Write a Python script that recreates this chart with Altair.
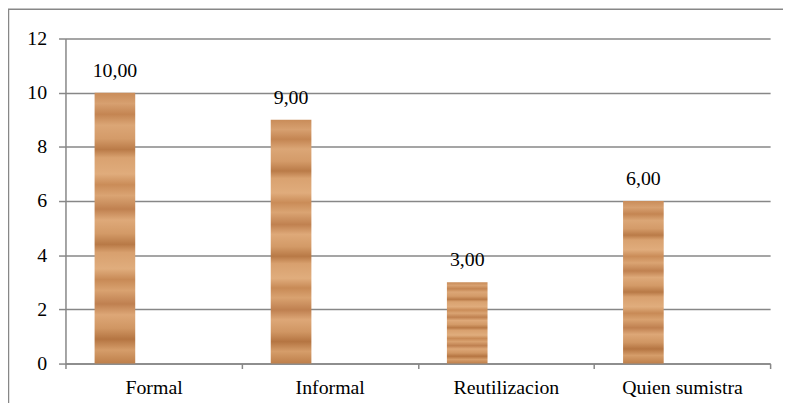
import altair as alt
import pandas as pd

categories = ["Formal", "Informal", "Reutilizacion", "Quien sumistra"]
values = [10, 9, 3, 6]
y_ticks = [0, 2, 4, 6, 8, 10, 12]

df = pd.DataFrame({"cat": categories, "value": values})

FONT = "'Times New Roman', 'Liberation Serif', 'DejaVu Serif', serif"
GRAY = "#878787"

# wood-like vertical gradient (style only)
wood_stops = [
    (0.00, "#C98C59"), (0.04, "#D7A070"), (0.08, "#C48552"), (0.12, "#DBA676"),
    (0.17, "#D49B69"), (0.21, "#BA7B48"), (0.24, "#D9A270"), (0.30, "#E0AC7C"),
    (0.34, "#CA8C58"), (0.38, "#DAA473"), (0.43, "#C08150"), (0.47, "#DEA979"),
    (0.52, "#D39A67"), (0.56, "#B87946"), (0.59, "#D8A06E"), (0.65, "#E0AD7D"),
    (0.69, "#C88A56"), (0.73, "#D9A270"), (0.78, "#BF8050"), (0.82, "#DDA777"),
    (0.87, "#D09663"), (0.91, "#B57542"), (0.95, "#D59D6A"), (1.00, "#BE7F4A"),
]
wood = {
    "gradient": "linear", "x1": 0, "y1": 0, "x2": 0, "y2": 1,
    "stops": [{"offset": o, "color": c} for o, c in wood_stops],
}

x_enc = alt.X(
    "cat:N", sort=categories, title=None,
    scale=alt.Scale(paddingInner=0, paddingOuter=0),
    axis=alt.Axis(
        labelAngle=0, tickBand="extent", tickSize=5, tickColor=GRAY,
        domainColor=GRAY, domainWidth=1.5, tickWidth=1.5, labelPadding=9,
        labelFont=FONT, labelFontSize=20, labelColor="black", grid=False,
    ),
)
y_enc = alt.Y(
    "value:Q", title=None,
    scale=alt.Scale(domain=[0, 12], nice=False),
    axis=alt.Axis(
        values=y_ticks, grid=True, gridColor=GRAY, gridWidth=1.5,
        domainColor=GRAY, domainWidth=1.5, tickColor=GRAY, tickWidth=1.5,
        tickSize=7, labelPadding=12, labelFont=FONT, labelFontSize=20,
        labelColor="black",
    ),
)

bars = alt.Chart(df).mark_bar(
    width=41, xOffset=-39, fill=wood, stroke=None
).encode(x=x_enc, y=y_enc)

labels = alt.Chart(df).transform_calculate(
    txt="replace(format(datum.value, '.2f'), '.', ',')"
).mark_text(
    xOffset=-39, dy=-16, baseline="alphabetic", align="center",
    font=FONT, fontSize=20, color="black",
).encode(x=alt.X("cat:N", sort=categories), y="value:Q", text="txt:N")

border = alt.Chart(pd.DataFrame({"a": [0]})).mark_rect(
    fill=None, stroke=GRAY, strokeWidth=1.5
).encode(
    x=alt.value(-57.5), x2=alt.value(900),
    y=alt.value(-29.5), y2=alt.value(600),
)

chart = alt.layer(border, bars, labels).properties(
    width=711, height=328,
    autosize=alt.AutoSizeParams(type="none"),
    padding={"left": 58, "top": 29, "right": 13, "bottom": 38},
    background="white",
).configure_view(stroke=None)

chart.save("out.html", embed_options={"renderer": "svg", "actions": False})
